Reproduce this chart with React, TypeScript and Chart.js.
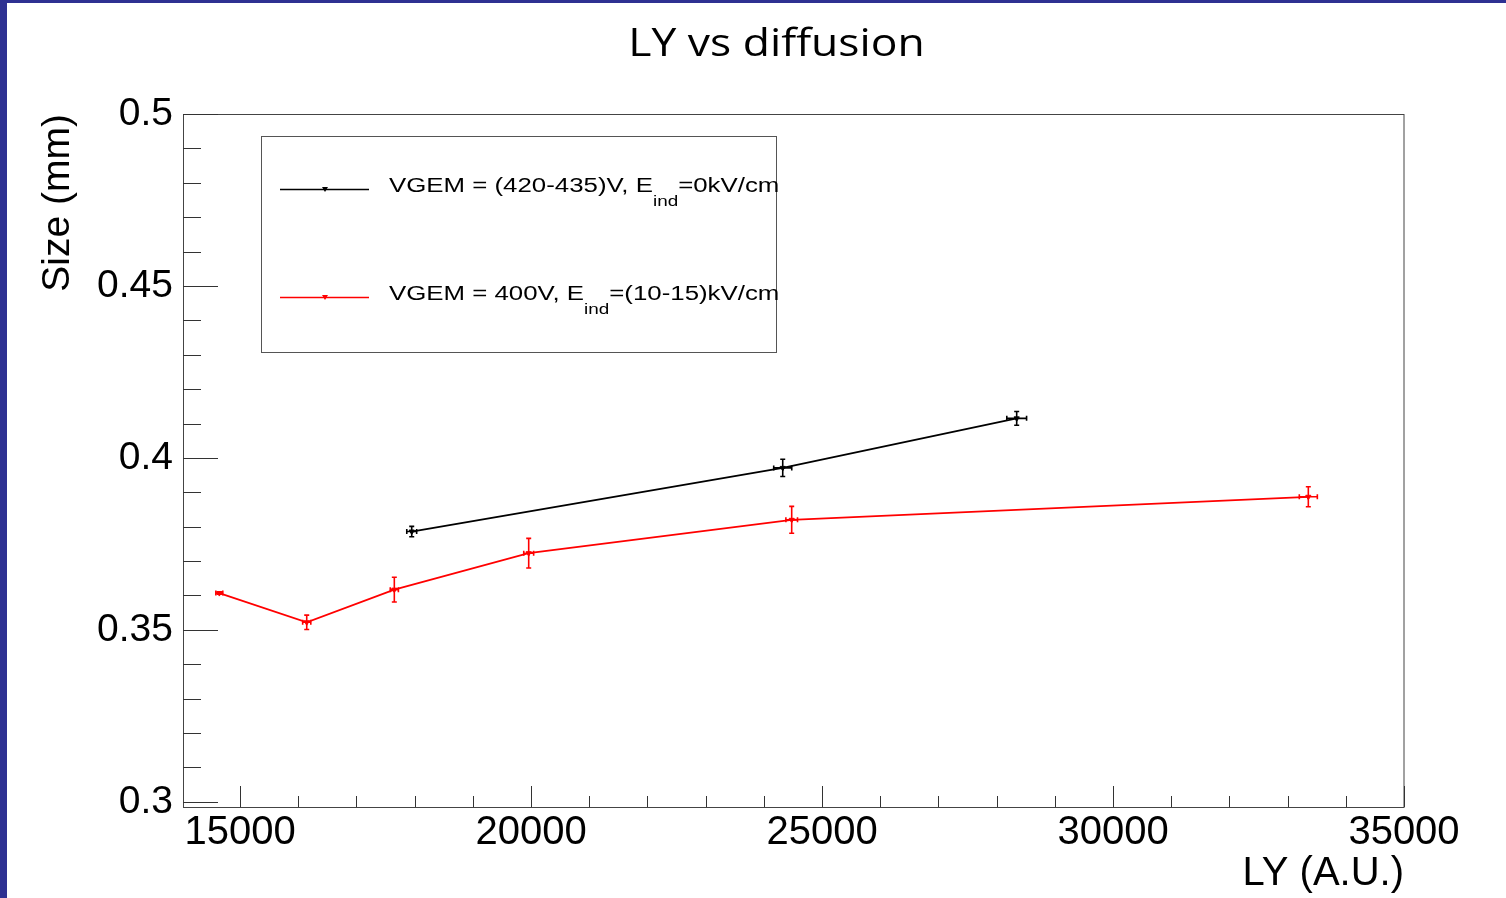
import { useEffect, useRef } from "react";
import { Chart, registerables } from "chart.js";

Chart.register(...registerables);

// Text
const TITLE = "LY vs diffusion";
const X_TITLE = "LY (A.U.)";
const Y_TITLE = "Size (mm)";

// Axes
const xRange = [14020, 35000];
const yRange = [0.2985, 0.5];
const xTickValues = [15000, 20000, 25000, 30000, 35000];
const yTickValues = [0.3, 0.35, 0.4, 0.45, 0.5];
const xMinorStep = 1000;
const yMinorStep = 0.01;

// Series: VGEM = (420-435)V, E_ind = 0 kV/cm
const blackLY = [17950, 24325, 28345];
const blackSize = [0.3786, 0.3971, 0.4115];
const blackLYErr = [85, 155, 170];
const blackSizeErr = [0.0015, 0.0025, 0.002];

// Series: VGEM = 400V, E_ind = (10-15) kV/cm
const redLY = [14644, 16146, 17651, 19960, 24479, 33356];
const redSize = [0.3607, 0.3522, 0.3617, 0.3723, 0.382, 0.3887];
const redLYErr = [60, 70, 70, 85, 100, 155];
const redSizeErr = [0.0003, 0.0021, 0.0036, 0.0043, 0.0039, 0.0029];

// Legend text pieces (main text, subscript, tail)
const legendMain = ["VGEM = (420-435)V, E", "VGEM = 400V, E"];
const legendSub = ["ind", "ind"];
const legendTail = ["=0kV/cm", "=(10-15)kV/cm"];

const SANS = '"Liberation Sans", Arial, Helvetica, sans-serif';
const FRAME = "#444444";

const toPoints = (xs: number[], ys: number[]) => xs.map((x, i) => ({ x, y: ys[i] }));

const errorBars = {
  id: "errorBars",
  afterDatasetsDraw(chart: any) {
    const { ctx } = chart;
    const xs = chart.scales.x;
    const ys = chart.scales.y;
    const cap = 2.5;
    chart.data.datasets.forEach((ds: any) => {
      ctx.save();
      ctx.strokeStyle = ds.borderColor;
      ctx.lineWidth = 1.6;
      ds.data.forEach((p: any, j: number) => {
        const px = xs.getPixelForValue(p.x);
        const py = ys.getPixelForValue(p.y);
        const x0 = xs.getPixelForValue(p.x - ds.errX[j]);
        const x1 = xs.getPixelForValue(p.x + ds.errX[j]);
        const y0 = ys.getPixelForValue(p.y - ds.errY[j]);
        const y1 = ys.getPixelForValue(p.y + ds.errY[j]);
        ctx.beginPath();
        ctx.moveTo(x0, py);
        ctx.lineTo(x1, py);
        ctx.moveTo(px, y0);
        ctx.lineTo(px, y1);
        // end caps
        ctx.moveTo(x0, py - cap);
        ctx.lineTo(x0, py + cap);
        ctx.moveTo(x1, py - cap);
        ctx.lineTo(x1, py + cap);
        ctx.moveTo(px - cap, y0);
        ctx.lineTo(px + cap, y0);
        ctx.moveTo(px - cap, y1);
        ctx.lineTo(px + cap, y1);
        ctx.stroke();
      });
      ctx.restore();
    });
  },
};

const decorations = {
  id: "decorations",
  afterDraw(chart: any) {
    const { ctx, chartArea } = chart;
    const xs = chart.scales.x;
    const ys = chart.scales.y;
    const { left, right, top, bottom } = chartArea;

    ctx.save();
    // frame
    ctx.strokeStyle = FRAME;
    ctx.lineWidth = 1;
    ctx.strokeRect(left + 0.5, top + 0.5, right - left - 0.5, bottom - top);

    // y ticks (inward from the left edge)
    ctx.strokeStyle = "#333333";
    ctx.beginPath();
    const yk0 = Math.ceil(yRange[0] / yMinorStep - 1e-6);
    const yk1 = Math.floor(yRange[1] / yMinorStep + 1e-6);
    for (let k = yk0; k <= yk1; k++) {
      const v = k * yMinorStep;
      const isMajor = yTickValues.some((t) => Math.abs(t - v) < 1e-6);
      const py = Math.round(ys.getPixelForValue(v)) + 0.5;
      ctx.moveTo(left, py);
      ctx.lineTo(left + (isMajor ? 35 : 18), py);
    }
    // x ticks (inward from the bottom edge)
    const xk0 = Math.ceil(xRange[0] / xMinorStep);
    const xk1 = Math.floor(xRange[1] / xMinorStep);
    for (let k = xk0; k <= xk1; k++) {
      const v = k * xMinorStep;
      const isMajor = xTickValues.includes(v);
      const px = Math.round(xs.getPixelForValue(v)) + 0.5;
      ctx.moveTo(px, bottom);
      ctx.lineTo(px, bottom - (isMajor ? 21 : 11));
    }
    ctx.stroke();

    // title
    ctx.fillStyle = "#000";
    ctx.font = '39px "Open Sans", "Noto Sans", sans-serif';
    ctx.textAlign = "center";
    ctx.textBaseline = "alphabetic";
    ctx.save();
    ctx.translate(776.5, 56);
    ctx.scale(1.14, 1);
    ctx.fillText(TITLE, 0, 0);
    ctx.restore();

    // legend box
    const lx = left + 78;
    const ly = top + 22;
    const lw = 515;
    const lh = 216;
    ctx.strokeStyle = "#555555";
    ctx.lineWidth = 1;
    ctx.fillStyle = "#ffffff";
    ctx.fillRect(lx, ly, lw, lh);
    ctx.strokeRect(lx + 0.5, ly + 0.5, lw, lh);

    const rowsY = [ly + 53.5, ly + 161.5];
    chart.data.datasets.forEach((ds: any, i: number) => {
      const yLine = rowsY[i];
      ctx.strokeStyle = ds.borderColor;
      ctx.lineWidth = 1.6;
      ctx.beginPath();
      ctx.moveTo(lx + 19, yLine);
      ctx.lineTo(lx + 108, yLine);
      ctx.stroke();
      // marker
      ctx.fillStyle = ds.borderColor;
      ctx.beginPath();
      ctx.moveTo(lx + 61, yLine - 2.5);
      ctx.lineTo(lx + 67, yLine - 2.5);
      ctx.lineTo(lx + 64, yLine + 2.5);
      ctx.closePath();
      ctx.fill();

      // text with subscript
      ctx.fillStyle = "#000";
      ctx.textAlign = "left";
      ctx.textBaseline = "alphabetic";
      ctx.save();
      ctx.translate(lx + 128, yLine + 2.5);
      ctx.scale(1.26, 1);
      ctx.font = `20.5px ${SANS}`;
      ctx.fillText(legendMain[i], 0, 0);
      const w1 = ctx.measureText(legendMain[i]).width;
      ctx.font = `15px ${SANS}`;
      ctx.fillText(legendSub[i], w1, 14);
      const w2 = ctx.measureText(legendSub[i]).width;
      ctx.font = `20.5px ${SANS}`;
      ctx.fillText(legendTail[i], w1 + w2, 0);
      ctx.restore();
    });
    ctx.restore();
  },
};

export default function App() {
  const canvasRef = useRef<HTMLCanvasElement | null>(null);

  useEffect(() => {
    const canvas = canvasRef.current;
    if (!canvas) return;
    const chart = new Chart(canvas, {
      type: "scatter",
      data: {
        datasets: [
          {
            label: legendMain[0] + legendSub[0] + legendTail[0],
            data: toPoints(blackLY, blackSize),
            errX: blackLYErr,
            errY: blackSizeErr,
            borderColor: "#000000",
            backgroundColor: "#000000",
            showLine: true,
            borderWidth: 1.8,
            pointStyle: "triangle",
            rotation: 180,
            pointRadius: 3,
            pointBorderWidth: 1,
          } as any,
          {
            label: legendMain[1] + legendSub[1] + legendTail[1],
            data: toPoints(redLY, redSize),
            errX: redLYErr,
            errY: redSizeErr,
            borderColor: "#ff0000",
            backgroundColor: "#ff0000",
            showLine: true,
            borderWidth: 1.8,
            pointStyle: "triangle",
            rotation: 180,
            pointRadius: 3,
            pointBorderWidth: 1,
          } as any,
        ],
      },
      options: {
        animation: false,
        responsive: false,
        maintainAspectRatio: false,
        layout: { padding: { top: 114, right: 102, left: 0, bottom: 0 } },
        plugins: {
          legend: { display: false },
          title: { display: false },
          tooltip: { enabled: false },
        },
        scales: {
          x: {
            type: "linear",
            position: "bottom",
            min: xRange[0],
            max: xRange[1],
            afterFit: (s: any) => {
              s.height = 91;
            },
            afterBuildTicks: (s: any) => {
              s.ticks = xTickValues.map((value) => ({ value }));
            },
            ticks: {
              font: { family: SANS, size: 40 },
              color: "#000",
              padding: 2,
              maxRotation: 0,
              autoSkip: false,
              callback: (v: any) => String(v),
            },
            grid: { display: false, drawTicks: false },
            border: { display: false },
            title: {
              display: true,
              text: X_TITLE,
              align: "end",
              color: "#000",
              font: { family: SANS, size: 40 },
              padding: { top: 0, bottom: 0 },
            },
          },
          y: {
            type: "linear",
            position: "left",
            min: yRange[0],
            max: yRange[1],
            afterFit: (s: any) => {
              s.width = 183;
            },
            afterBuildTicks: (s: any) => {
              s.ticks = yTickValues.map((value) => ({ value }));
            },
            ticks: {
              font: { family: SANS, size: 39 },
              color: "#000",
              padding: 10,
              autoSkip: false,
              callback: (v: any) => String(Number(Number(v).toFixed(3))),
            },
            grid: { display: false, drawTicks: false },
            border: { display: false },
            title: {
              display: true,
              text: Y_TITLE,
              align: "end",
              color: "#000",
              font: { family: SANS, size: 39 },
              padding: { top: 35, bottom: 0 },
            },
          },
        },
      },
      plugins: [errorBars, decorations],
    } as any);
    return () => chart.destroy();
  }, []);

  return (
    <div
      style={{
        position: "absolute",
        left: 0,
        top: 0,
        width: 1506,
        height: 898,
        background: "#ffffff",
        overflow: "hidden",
      }}
    >
      <div style={{ position: "absolute", left: 0, top: 0, width: 7, height: 898, background: "#2e3192" }} />
      <div style={{ position: "absolute", left: 0, top: 0, width: 1506, height: 3, background: "#2e3192" }} />
      <canvas
        ref={canvasRef}
        width={1506}
        height={898}
        style={{ position: "absolute", left: 0, top: 0, display: "block" }}
      />
    </div>
  );
}
